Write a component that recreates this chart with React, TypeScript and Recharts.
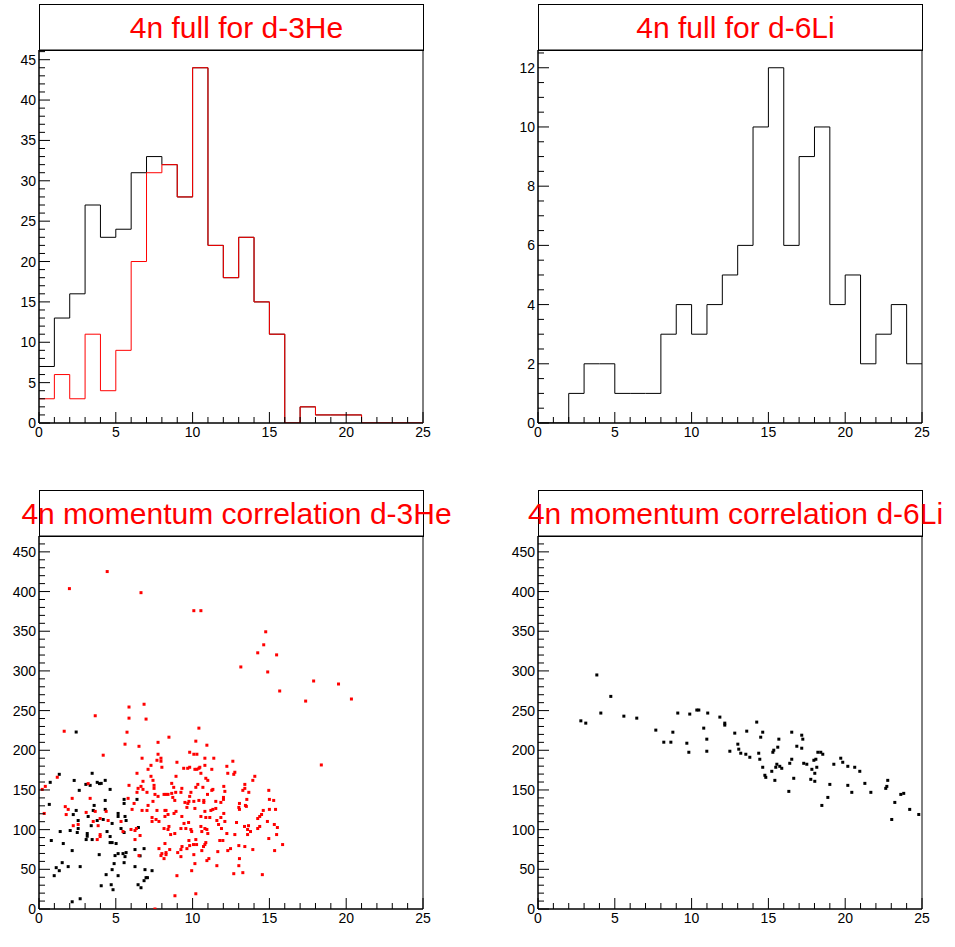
import React from 'react';
import { ComposedChart, Line, Scatter, XAxis, YAxis, ReferenceArea } from 'recharts';

const FONT = '"Liberation Sans", Arial, Helvetica, sans-serif';

// bin contents, 25 bins of width 1 on [0, 25]
const he3AllCounts = [7, 13, 16, 27, 23, 24, 31, 33, 32, 28, 44, 22, 18, 23, 15, 11, 0, 2, 1, 1, 1, 0, 0, 0, 0];
const he3RedCounts = [3, 6, 3, 11, 4, 9, 20, 31, 32, 28, 44, 22, 18, 23, 15, 11, 0, 2, 1, 1, 1, 0, 0, 0, 0];
const li6Counts = [0, 0, 1, 2, 2, 1, 1, 1, 3, 4, 3, 4, 5, 6, 10, 12, 6, 9, 10, 4, 5, 2, 3, 4, 2];

// momentum correlation points [x, y]
const he3BlackPts: [number, number][] = [
  [2.42, 223], [1.32, 169.7], [3.46, 171], [0.73, 159.6], [2.29, 162], [3.79, 159.6], [3.94, 158], [3.05, 157],
  [3.33, 155.8], [2.62, 149.5], [0.67, 131.8], [3.59, 130.5], [2.42, 124.2], [3.53, 124.2], [2.23, 119], [3.2, 116.6],
  [2.55, 111.5], [3.79, 111.5], [3.4, 105], [2.55, 101.4], [1.38, 97.6], [2.03, 98.9], [2.49, 96.4], [3.14, 95.1],
  [3.14, 91.7], [3.07, 87.5], [3.46, 87.5], [0.8, 86.3], [1.58, 82.5], [2.16, 73.6], [3.92, 68.5], [1.51, 58.4],
  [1.9, 53.4], [2.68, 53.4], [1.12, 52.1], [1.32, 48.3], [0.99, 42], [4.05, 29.3], [2.68, 12.9], [2.16, 9.1],
  [4.31, 162.1], [4.05, 158.3], [4.63, 150.7], [5.54, 138.1], [6.38, 138.1], [4.31, 136.8], [5.54, 133], [4.31, 125.5],
  [5.15, 120.4], [5.15, 116.6], [5.6, 116.6], [4.18, 112.8], [4.76, 107.8], [5.67, 111.5], [5.34, 101.4], [4.43, 97.6],
  [5.54, 96.4], [6.47, 102.7], [4.63, 91.3], [4.63, 83.7], [4.76, 83.7], [5.02, 82.5], [6.84, 76.1], [5.15, 69.8],
  [4.95, 67.3], [5.47, 69.8], [5.67, 71.1], [5.6, 66], [6.25, 74.9], [6.58, 67], [4.89, 57.2], [5.54, 58.4],
  [6.25, 53.4], [4.76, 49.6], [6.9, 49.6], [7.36, 48.3], [5.15, 42], [4.37, 43.3], [6.97, 39.5], [7.06, 39.5],
  [6.84, 35.7], [4.7, 30.6], [6.45, 30.6], [4.82, 24.3], [6.64, 26.8],
];

const he3RedPts: [number, number][] = [
  [1.98, 403.7], [4.44, 425.2], [6.64, 398.6], [10.08, 375.9], [10.54, 375.9], [14.76, 349.3], [14.63, 332.9],
  [14.24, 322.8], [15.47, 320.2], [13.14, 305], [14.89, 298.7], [17.88, 287.3], [19.5, 283.5], [20.34, 264.6],
  [17.36, 262], [15.67, 274.7], [18.38, 181.5],
  [3.66, 243.5], [1.64, 224], [1.19, 166], [3.2, 158], [0.41, 154.5], [0.21, 150.7], [2.16, 139.4], [3.33, 139.4],
  [1.71, 129], [1.9, 125.5], [3.66, 123], [3.07, 121.7], [0.34, 120.4], [1.77, 119], [3.98, 114], [3.53, 110.3],
  [2.23, 105], [2.55, 106.5], [3.85, 105], [3.98, 93.8], [3.98, 91.3], [3.79, 87.5],
  [5.86, 254.5], [6.84, 258], [5.86, 240.5], [6.97, 239.3], [5.73, 222.8], [5.6, 207.7], [6.51, 205], [7.75, 210],
  [4.18, 193.8], [6.71, 190], [7.75, 195], [7.68, 187.4], [7.94, 190], [7.94, 186.2], [7.29, 181], [7.1, 176],
  [8.0, 178.6], [6.38, 171], [7.29, 167.2], [6.77, 160.9], [7.42, 162.1], [5.86, 155.8], [7.49, 155.8], [7.49, 152],
  [6.64, 154.5], [6.45, 152], [6.38, 147], [6.77, 150.7], [7.03, 147], [7.55, 144.4], [7.75, 141.9], [8.14, 144.4],
  [5.8, 139.4], [6.19, 133], [7.1, 130.5], [7.42, 135.6], [4.37, 123], [6.06, 125.5], [6.71, 124.2], [7.03, 124.2],
  [7.68, 124.2], [8.2, 124.2], [4.5, 111.5], [5.34, 110.3], [7.36, 115.3], [7.36, 110.3], [7.62, 112.8], [7.81, 110.3],
  [8.2, 116.6], [5.47, 97.6], [5.99, 100.2], [6.25, 98.9], [6.34, 101.4], [8.14, 101.4], [6.58, 92.6], [6.25, 87.5],
  [8.2, 82.5], [7.81, 76.1], [6.51, 67.3], [8.0, 69.8], [7.94, 67.3], [8.14, 63.5], [7.55, 0],
  [10.41, 227.9], [8.46, 216.5], [10.21, 211.5], [10.93, 206.4], [9.81, 197.5], [10.08, 195], [10.28, 195], [10.8, 190],
  [11.38, 190], [8.98, 184.9], [10.8, 181], [12.23, 179.8], [9.42, 177.3], [9.68, 177.3], [9.81, 178.6], [10.15, 176],
  [10.28, 176], [10.41, 177.3], [10.47, 178.6], [11.25, 176], [10.54, 171], [12.29, 171], [8.92, 167.2], [10.86, 164.7],
  [10.99, 162.1], [8.64, 158.3], [10.34, 157], [10.21, 153.3], [10.67, 153.3], [8.77, 153.3], [9.3, 152], [12.03, 154.5],
  [11.32, 150.7], [11.25, 149.5], [12.1, 148.2], [8.64, 145.7], [8.9, 147], [9.24, 147], [9.89, 147], [8.27, 144.4],
  [8.4, 144.4], [9.81, 141.9], [8.71, 140.6], [8.84, 136.8], [10.97, 144.4], [12.01, 140.6], [12.01, 138.1], [9.5, 134.3],
  [9.76, 135.6], [9.69, 133], [10.08, 135.6], [10.41, 136.8], [10.73, 136.8], [10.73, 134.3], [11.51, 135.6], [11.84, 134.3],
  [9.63, 128], [10.15, 126.7], [11.19, 124.2], [11.32, 125.5], [11.51, 126.7], [8.27, 124.2], [8.92, 123], [8.79, 120.4],
  [8.4, 119.1], [10.8, 123], [12.03, 120.4], [9.3, 116.6], [10.54, 116.6], [10.86, 115.3], [11.12, 115.3], [11.84, 115.3],
  [11.58, 111.5], [12.1, 110.3], [9.44, 107.8], [9.74, 109], [11.69, 106.5], [10.54, 104], [8.46, 104], [8.4, 100.2],
  [9.24, 101.4], [9.56, 101.4], [9.89, 100.2], [10.8, 101.4], [10.93, 100.2], [11.88, 101.4], [9.94, 97.6], [10.6, 97.6],
  [8.57, 93.8], [8.84, 95.1], [10.99, 95.1], [12.23, 95.1], [9.76, 86.3], [10.21, 87.5], [10.06, 81.2], [10.26, 81.2],
  [10.86, 83.7], [9.31, 78.7], [9.63, 76.1], [9.81, 79.9], [10.71, 78.7], [10.8, 81.2], [11.77, 86.3], [11.97, 86.3],
  [8.51, 74.9], [9.24, 74.9], [10.6, 73.6], [12.29, 73.6], [8.27, 71.1], [8.27, 68.5], [9.03, 71.1], [10.08, 68.5],
  [11.64, 72.3], [9.24, 66], [11.06, 63.5], [10.93, 61], [10.15, 57.2], [11.58, 54.6], [9.94, 48.3], [8.98, 42],
  [8.85, 16.7], [10.21, 19.2],
  [12.62, 186.2], [12.75, 172.3], [12.68, 169.7], [14.05, 167.2], [13.92, 162.1], [13.4, 157], [13.4, 152], [13.27, 149.5],
  [13.66, 147], [14.96, 149.5], [13.53, 138.1], [15.0, 138.1], [15.28, 136.8], [13.05, 133], [13.44, 130.5], [13.5, 129.3],
  [13.01, 128], [13.05, 125.5], [14.6, 124.2], [15.0, 125.5], [15.4, 125.5], [14.49, 119.1], [14.37, 116.6], [14.24, 114],
  [12.86, 109], [14.87, 110.3], [15.32, 106.5], [15.52, 102.7], [13.38, 104], [13.64, 105], [13.58, 100.2], [13.77, 97.6],
  [14.37, 104], [14.24, 101.4], [12.75, 93.8], [13.58, 93.8], [15.47, 93.8], [14.96, 88.8], [15.86, 81.2], [13.01, 79.9],
  [13.4, 78.7], [12.47, 76.1], [13.92, 74.9], [15.34, 73.6], [13.05, 63.5], [13.01, 54.6], [13.27, 45.8], [12.68, 44.5],
  [14.54, 43.3],
];

const li6Pts: [number, number][] = [
  [2.79, 237.1], [3.11, 234.2], [3.83, 294.9], [4.09, 246.9], [4.74, 267.9], [5.59, 243], [6.43, 240.5], [7.67, 225.4],
  [8.19, 210.2], [8.65, 210.2], [8.78, 222.8], [9.1, 246.9], [9.69, 208.9], [9.82, 197.5], [9.88, 245.6], [10.34, 250.7],
  [10.47, 250.7], [10.79, 227.9], [10.99, 214], [10.99, 198.8], [11.05, 246.9], [11.84, 241.8], [12.16, 234.2], [12.16, 231.7],
  [12.49, 198.8], [12.81, 221.6], [13.01, 207.7], [13.07, 201.4], [13.2, 196.3], [13.53, 195], [13.59, 224.1], [13.79, 191.2],
  [14.24, 235.5], [14.37, 196.3], [14.44, 188.7], [14.5, 216.5], [14.63, 222.8], [14.63, 178.6], [14.77, 168.5], [14.83, 165.9],
  [15.22, 173.5], [15.29, 197.5], [15.35, 200.1], [15.42, 162.1], [15.48, 178.6], [15.55, 182.4], [15.61, 203.9], [15.68, 214],
  [15.74, 179.8], [15.87, 177.3], [16.33, 148.2], [16.39, 183.6], [16.52, 222.8], [16.52, 188.7], [16.65, 164.7], [16.85, 205.1],
  [17.17, 219], [17.24, 214], [17.17, 202.6], [17.3, 183.6], [17.5, 182.4], [17.76, 163.4], [17.83, 176], [17.96, 187.4],
  [18.02, 171], [18.02, 160.9], [18.09, 188.7], [18.15, 178.6], [18.22, 197.5], [18.41, 197.5], [18.48, 130.5], [18.54, 195],
  [18.87, 140.6], [19.0, 157], [19.26, 182.4], [19.71, 190], [19.84, 184.9], [20.17, 179.8], [20.17, 155.8], [20.43, 147],
  [20.62, 178.6], [20.95, 173.5], [21.28, 158.3], [21.67, 147], [22.64, 152], [22.71, 154.5], [22.77, 162.1], [23.03, 112.8],
  [23.23, 134.3], [23.62, 144.4], [23.81, 145.7], [24.2, 125.5], [24.79, 119.1],
];

const range = (from: number, to: number, step: number) => {
  const out: number[] = [];
  for (let v = from; v <= to + 1e-9; v += step) out.push(Math.round(v * 100) / 100);
  return out;
};

const X_TICKS = range(0, 25, 1);
const HE3_Y_TICKS = range(0, 46, 1);
const LI6_Y_TICKS = range(0, 12.5, 0.5);
const CORR_Y_TICKS = range(0, 460, 10);

const isMajor = (v: number, step: number) => Math.abs(v / step - Math.round(v / step)) < 1e-6;

const yTick = (step: number) => (props: any) => {
  const { x, y, payload } = props;
  const major = isMajor(payload.value, step);
  return (
    <g>
      <line x1={x} y1={y} x2={x + (major ? 11 : 6)} y2={y} stroke="#000" strokeWidth={1} />
      {major && (
        <text x={x - 3} y={y} dy="0.36em" textAnchor="end" fontSize={14} fontFamily={FONT} fill="#000">
          {payload.value}
        </text>
      )}
    </g>
  );
};

const xTick = (props: any) => {
  const { x, y, payload } = props;
  const major = isMajor(payload.value, 5);
  return (
    <g>
      <line x1={x} y1={y} x2={x} y2={y - (major ? 11 : 6)} stroke="#000" strokeWidth={1} />
      {major && (
        <text x={x} y={y + 14} textAnchor="middle" fontSize={14} fontFamily={FONT} fill="#000">
          {payload.value}
        </text>
      )}
    </g>
  );
};

const toSteps = (series: Record<string, number[]>) =>
  X_TICKS.map((x) => {
    const row: Record<string, number> = { x };
    Object.entries(series).forEach(([k, arr]) => {
      row[k] = arr[Math.min(x, arr.length - 1)];
    });
    return row;
  });

const toPoints = (pts: [number, number][]) => pts.map(([x, y]) => ({ x, y }));

const square = (color: string) => (props: any) => (
  <rect x={props.cx - 1.5} y={props.cy - 1.5} width={3} height={3} fill={color} />
);

const CHART_W = 440;
const CHART_H = 450;
const MARGIN = { top: 50, right: 17, bottom: 0, left: 0 };

function Pad({ left, top, title, children }: { left: number; top: number; title: string; children: React.ReactNode }) {
  return (
    <div style={{ position: 'absolute', left, top, width: CHART_W, height: CHART_H }}>
      <div
        style={{
          position: 'absolute',
          left: 39,
          top: 4,
          width: 385,
          height: 47,
          border: '1px solid #000',
          boxSizing: 'border-box',
        }}
      >
        <div
          style={{
            position: 'absolute',
            left: 0,
            top: 0,
            width: 393,
            height: 45,
            display: 'flex',
            alignItems: 'center',
            justifyContent: 'center',
            whiteSpace: 'nowrap',
            color: '#ff0000',
            fontFamily: FONT,
            fontSize: 30,
          }}
        >
          {title}
        </div>
      </div>
      <div style={{ position: 'absolute', left: 0, top: 0 }}>{children}</div>
    </div>
  );
}

function Axes({ yMax, yTicks, yStep, yKey }: { yMax: number; yTicks: number[]; yStep: number; yKey?: string }) {
  return [
    <XAxis
      key="x"
      type="number"
      dataKey="x"
      domain={[0, 25]}
      allowDataOverflow
      ticks={X_TICKS}
      interval={0}
      tickSize={0}
      tickMargin={0}
      height={27}
      axisLine={{ stroke: '#000' }}
      tickLine={false}
      tick={xTick}
    />,
    <YAxis
      key="y"
      type="number"
      dataKey={yKey}
      domain={[0, yMax]}
      allowDataOverflow
      ticks={yTicks}
      interval={0}
      tickSize={0}
      tickMargin={0}
      width={39}
      axisLine={{ stroke: '#000' }}
      tickLine={false}
      tick={yTick(yStep)}
    />,
  ];
}

export default function App() {
  const he3Hist = toSteps({ all: he3AllCounts, red: he3RedCounts });
  const li6Hist = toSteps({ all: li6Counts });

  return (
    <div style={{ position: 'absolute', left: 0, top: 0, width: 955, height: 947, background: '#fff' }}>
      <Pad left={0} top={0} title="4n full for d-3He">
        <ComposedChart width={CHART_W} height={CHART_H} data={he3Hist} margin={MARGIN}>
          {Axes({ yMax: 46.2, yTicks: HE3_Y_TICKS, yStep: 5 })}
          <Line type="stepAfter" dataKey="all" stroke="#000" strokeWidth={1} dot={false} activeDot={false} isAnimationActive={false} />
          <Line type="stepAfter" dataKey="red" stroke="#ff0000" strokeWidth={1} dot={false} activeDot={false} isAnimationActive={false} />
          <ReferenceArea x1={0} x2={25} y1={0} y2={46.2} fill="none" stroke="#000" strokeWidth={1} />
        </ComposedChart>
      </Pad>

      <Pad left={499} top={0} title="4n full for d-6Li">
        <ComposedChart width={CHART_W} height={CHART_H} data={li6Hist} margin={MARGIN}>
          {Axes({ yMax: 12.6, yTicks: LI6_Y_TICKS, yStep: 2 })}
          <Line type="stepAfter" dataKey="all" stroke="#000" strokeWidth={1} dot={false} activeDot={false} isAnimationActive={false} />
          <ReferenceArea x1={0} x2={25} y1={0} y2={12.6} fill="none" stroke="#000" strokeWidth={1} />
        </ComposedChart>
      </Pad>

      <Pad left={0} top={486} title="4n momentum correlation d-3He">
        <ComposedChart width={CHART_W} height={CHART_H} margin={MARGIN}>
          {Axes({ yMax: 470, yTicks: CORR_Y_TICKS, yStep: 50, yKey: 'y' })}
          <Scatter data={toPoints(he3BlackPts)} shape={square('#000')} isAnimationActive={false} />
          <Scatter data={toPoints(he3RedPts)} shape={square('#ff0000')} isAnimationActive={false} />
          <ReferenceArea x1={0} x2={25} y1={0} y2={470} fill="none" stroke="#000" strokeWidth={1} />
        </ComposedChart>
      </Pad>

      <Pad left={499} top={486} title="4n momentum correlation d-6Li">
        <ComposedChart width={CHART_W} height={CHART_H} margin={MARGIN}>
          {Axes({ yMax: 470, yTicks: CORR_Y_TICKS, yStep: 50, yKey: 'y' })}
          <Scatter data={toPoints(li6Pts)} shape={square('#000')} isAnimationActive={false} />
          <ReferenceArea x1={0} x2={25} y1={0} y2={470} fill="none" stroke="#000" strokeWidth={1} />
        </ComposedChart>
      </Pad>
    </div>
  );
}
